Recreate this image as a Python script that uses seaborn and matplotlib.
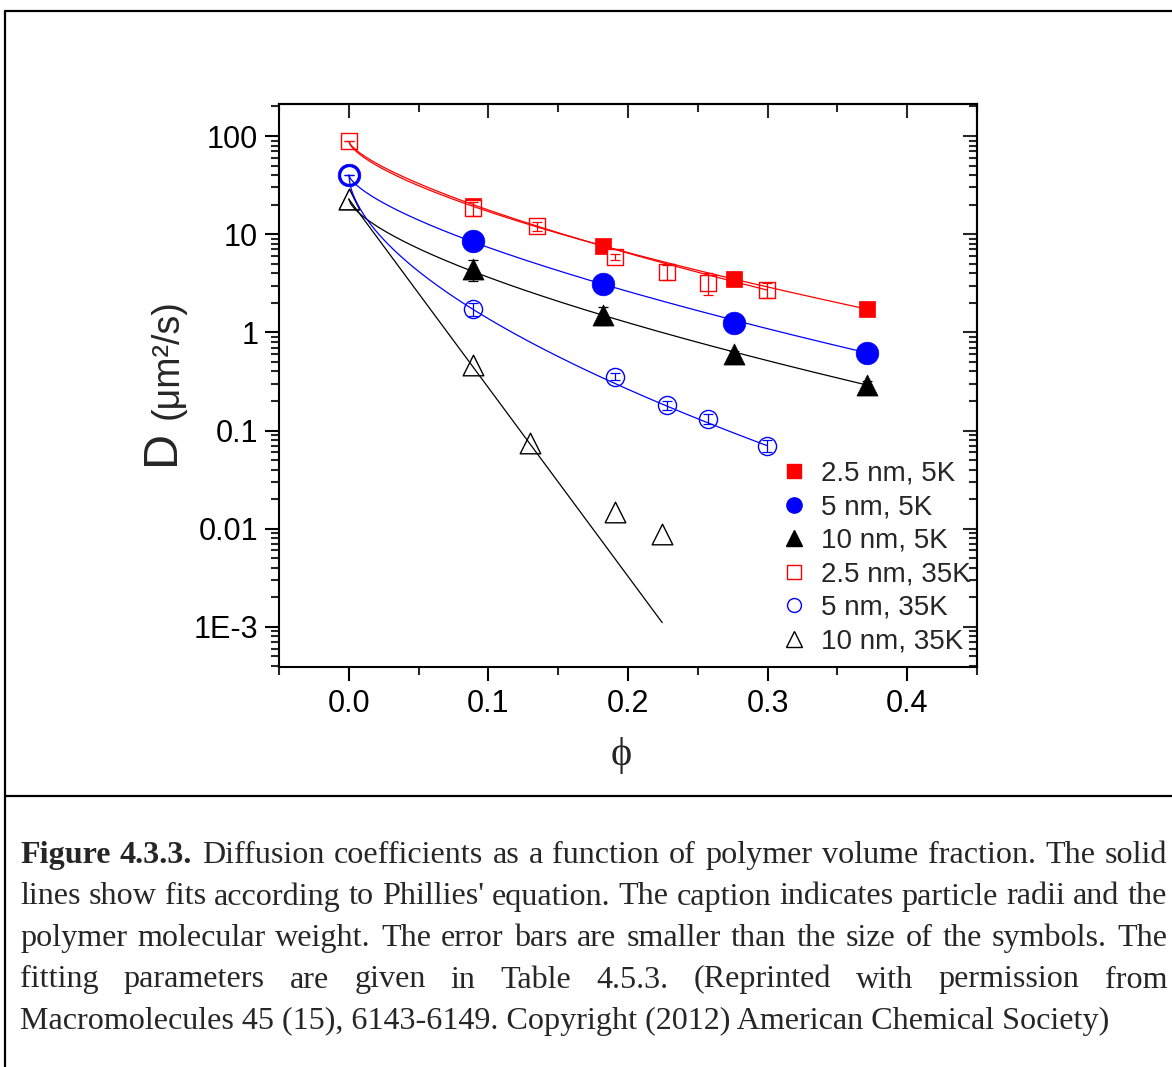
import numpy as np
import pandas as pd
import matplotlib
matplotlib.use("Agg")
import matplotlib.pyplot as plt
import seaborn as sns
from matplotlib.lines import Line2D
from matplotlib.ticker import (FixedLocator, LogLocator, NullFormatter,
                               FixedFormatter, MultipleLocator, FormatStrFormatter)

# ---------------- data ----------------
phi_5K = [0.0, 0.089, 0.182, 0.276, 0.371]
D_25nm_5K = [88.0, 19.4, 7.64, 3.47, 1.73]
D_5nm_5K = [40.0, 8.53, 3.11, 1.26, 0.62]
D_10nm_5K = [22.8, 4.42, 1.50, 0.60, 0.291]
err_10nm_5K = [0.0, 1.1, 0.3, 0.05, 0.03]

phi_25nm_35K = [0.0, 0.089, 0.135, 0.191, 0.228, 0.257, 0.2995]
D_25nm_35K = [89.0, 18.4, 12.1, 5.9, 4.15, 3.21, 2.70]
err_25nm_35K = [0.0, 3.0, 1.3, 0.4, 0.7, 0.8, 0.45]

phi_5nm_35K = [0.0, 0.089, 0.191, 0.228, 0.257, 0.2995]
D_5nm_35K = [40.0, 1.72, 0.354, 0.182, 0.131, 0.0702]
err_5nm_35K = [0.0, 0.25, 0.03, 0.02, 0.015, 0.01]

phi_10nm_35K = [0.0, 0.089, 0.130, 0.191, 0.2245]
D_10nm_35K = [22.8, 0.466, 0.0753, 0.0149, 0.00885]

series_labels = ["2.5 nm, 5K", "5 nm, 5K", "10 nm, 5K",
                 "2.5 nm, 35K", "5 nm, 35K", "10 nm, 35K"]

# Phillies fit parameters  D = D0 * exp(-a * phi**nu)
fit_D0 = [88.0, 40.0, 22.8, 88.0, 40.0, 22.8]
fit_a = [7.60, 8.22, 8.39, 8.15, 12.72, 44.25]
fit_nu = [0.665, 0.685, 0.660, 0.705, 0.577, 1.0]
fit_phi_max = [0.371, 0.371, 0.371, 0.2995, 0.2995, 0.2245]

y_tick_values = [100, 10, 1, 0.1, 0.01, 1e-3]
y_tick_labels = ["100", "10", "1", "0.1", "0.01", "1E-3"]
x_tick_values = [0.0, 0.1, 0.2, 0.3, 0.4]

caption_lines = [
    [("Figure", True), ("4.3.3.", True), ("Diffusion", False), ("coefficients", False), ("as", False),
     ("a", False), ("function", False), ("of", False), ("polymer", False), ("volume", False),
     ("fraction.", False), ("The", False), ("solid", False)],
    [(w, False) for w in "lines show fits according to Phillies' equation. The caption indicates particle radii and the".split()],
    [(w, False) for w in "polymer molecular weight. The error bars are smaller than the size of the symbols. The".split()],
    [(w, False) for w in "fitting parameters are given in Table 4.5.3. (Reprinted with permission from".split()],
]
caption_last = "Macromolecules 45 (15), 6143-6149. Copyright (2012) American Chemical Society)"

# ---------------- style ----------------
sns.set_theme(style="ticks")
plt.rcParams["font.family"] = ["Liberation Sans", "DejaVu Sans"]
plt.rcParams["axes.linewidth"] = 1.5

W, H = 1172, 1067
fig = plt.figure(figsize=(W / 100, H / 100), dpi=100)
fig.patch.set_facecolor("white")

L, R, T, B = 279, 977, 104, 667
ax = fig.add_axes([L / W, 1 - B / H, (R - L) / W, (B - T) / H])
ax.set_facecolor("white")
ax.set_yscale("log")
ax.set_xlim(-0.05, 0.45)
ax.set_ylim(3.9e-4, 212)

RED, BLUE, BLK = "#ff0000", "#0000ff", "#000000"

# filled (5K) markers
sns.scatterplot(x=phi_5K, y=D_25nm_5K, marker="s", s=118, color=RED, edgecolor=RED,
                linewidth=0.5, ax=ax, zorder=3)
sns.scatterplot(x=phi_5K, y=D_5nm_5K, marker="o", s=265, color=BLUE, edgecolor=BLUE,
                linewidth=0.5, ax=ax, zorder=3)
sns.scatterplot(x=phi_5K, y=D_10nm_5K, marker="^", s=230, color=BLK, edgecolor=BLK,
                linewidth=0.5, ax=ax, zorder=3)

# open (35K) markers with white face
sns.scatterplot(x=phi_25nm_35K, y=D_25nm_35K, marker="s", s=130, color=RED,
                facecolor="white", edgecolor=RED, linewidth=1.0, ax=ax, zorder=4)
sns.scatterplot(x=phi_5nm_35K, y=D_5nm_35K, marker="o", s=170, color=BLUE,
                facecolor="white", edgecolor=BLUE, linewidth=1.0, ax=ax, zorder=4)
sns.scatterplot(x=phi_10nm_35K, y=D_10nm_35K, marker="^", s=220, color=BLK,
                facecolor="white", edgecolor=BLK, linewidth=1.0, ax=ax, zorder=4)

# error bars
ax.errorbar(phi_25nm_35K, D_25nm_35K, yerr=err_25nm_35K, fmt="none", ecolor=RED,
            elinewidth=0.9, capsize=3.5, capthick=0.9, zorder=5)
ax.errorbar(phi_5nm_35K, D_5nm_35K, yerr=err_5nm_35K, fmt="none", ecolor=BLUE,
            elinewidth=0.9, capsize=3.5, capthick=0.9, zorder=5)
ax.errorbar(phi_5K, D_10nm_5K, yerr=err_10nm_5K, fmt="none", ecolor=BLK,
            elinewidth=0.9, capsize=3.5, capthick=0.9, zorder=2)

# fit lines
fit_colors = [RED, BLUE, BLK, RED, BLUE, BLK]
for D0, a, nu, pm, c in zip(fit_D0, fit_a, fit_nu, fit_phi_max, fit_colors):
    ph = np.linspace(0.0, pm, 300)
    dd = D0 * np.exp(-a * ph ** nu)
    sns.lineplot(x=ph, y=dd, color=c, linewidth=0.9, ax=ax, zorder=6, sort=False)

# ---------------- axes / ticks ----------------
ax.yaxis.set_major_locator(FixedLocator(y_tick_values))
ax.yaxis.set_major_formatter(FixedFormatter(y_tick_labels))
ax.yaxis.set_minor_locator(LogLocator(base=10, subs=np.arange(2, 10), numticks=20))
ax.yaxis.set_minor_formatter(NullFormatter())
ax.xaxis.set_major_locator(FixedLocator(x_tick_values))
ax.xaxis.set_major_formatter(FormatStrFormatter("%.1f"))
ax.xaxis.set_minor_locator(MultipleLocator(0.05))

ax.tick_params(axis="both", which="major", direction="out", length=10, width=1.5,
               labelsize=22, colors="black", pad=5)
ax.tick_params(axis="both", which="minor", direction="out", length=5.5, width=1.5)
ax.tick_params(axis="x", which="major", pad=6)
for sp in ax.spines.values():
    sp.set_visible(True)
    sp.set_linewidth(1.5)
    sp.set_color("black")

secx = ax.secondary_xaxis("top")
secx.xaxis.set_major_locator(FixedLocator(x_tick_values))
secx.xaxis.set_minor_locator(MultipleLocator(0.05))
secx.tick_params(which="major", direction="in", length=10, width=1.5, labeltop=False)
secx.tick_params(which="minor", direction="in", length=5.5, width=1.5)
secx.spines["top"].set_linewidth(1.5)

secy = ax.secondary_yaxis("right")
secy.yaxis.set_major_locator(FixedLocator(y_tick_values))
secy.yaxis.set_minor_locator(LogLocator(base=10, subs=np.arange(2, 10), numticks=20))
secy.yaxis.set_minor_formatter(NullFormatter())
secy.tick_params(which="major", direction="in", length=10, width=1.5, labelright=False)
secy.tick_params(which="minor", direction="in", length=5.5, width=1.5)
secy.spines["right"].set_linewidth(1.5)

ax.set_xlabel("")
ax.set_ylabel("")

# axis labels
fig.text(161 / W, 1 - 447 / H, "D", rotation=90, ha="center", va="center", fontsize=35)
fig.text(168 / W, 1 - 359 / H, "(μm²/s)", rotation=90, ha="center", va="center", fontsize=27)
fig.text(621 / W, 1 - 755 / H, "ϕ", ha="center", va="center", fontsize=29,
         family=["Liberation Serif", "DejaVu Serif"])

# legend
handles = [
    Line2D([], [], ls="none", marker="s", ms=10, mfc=RED, mec=RED),
    Line2D([], [], ls="none", marker="o", ms=11, mfc=BLUE, mec=BLUE),
    Line2D([], [], ls="none", marker="^", ms=12, mfc=BLK, mec=BLK),
    Line2D([], [], ls="none", marker="s", ms=9.5, mfc="white", mec=RED, mew=1.0),
    Line2D([], [], ls="none", marker="o", ms=10, mfc="white", mec=BLUE, mew=1.0),
    Line2D([], [], ls="none", marker="^", ms=11.5, mfc="white", mec=BLK, mew=1.0),
]
leg = ax.legend(handles, series_labels, loc="upper left",
                bbox_to_anchor=(780 / W, 1 - 461 / H), bbox_transform=fig.transFigure,
                frameon=False, fontsize=20, handlelength=1.0, handletextpad=0.47,
                labelspacing=0.27, borderpad=0, borderaxespad=0)

# frame lines of the figure box
for (x0, y0, x1, y1) in [(5, 11, W, 11), (5, 11, 5, H), (5, 796, W, 796)]:
    fig.add_artist(Line2D([x0 / W, x1 / W], [1 - y0 / H, 1 - y1 / H],
                          transform=fig.transFigure, color="black", lw=1.6))

# caption (justified)
cap_fs = 23.1
left_px, right_px = 20, 1167
baselines = [863, 904.5, 946, 987.5, 1029]
fig.canvas.draw()
renderer = fig.canvas.get_renderer()
for line, base in zip(caption_lines, baselines[:4]):
    texts = []
    for word, bold in line:
        t = fig.text(0, 1 - base / H, word, fontsize=cap_fs, family="Liberation Serif",
                     weight="bold" if bold else "normal", ha="left", va="baseline")
        texts.append(t)
    widths = [t.get_window_extent(renderer).width for t in texts]
    gap = (right_px - left_px - sum(widths)) / (len(texts) - 1)
    x = left_px
    for t, w in zip(texts, widths):
        t.set_x(x / W)
        x += w + gap
fig.text(left_px / W, 1 - baselines[4] / H, caption_last, fontsize=cap_fs,
         family="Liberation Serif", ha="left", va="baseline")

fig.savefig("out.png", dpi=100, facecolor="white")
